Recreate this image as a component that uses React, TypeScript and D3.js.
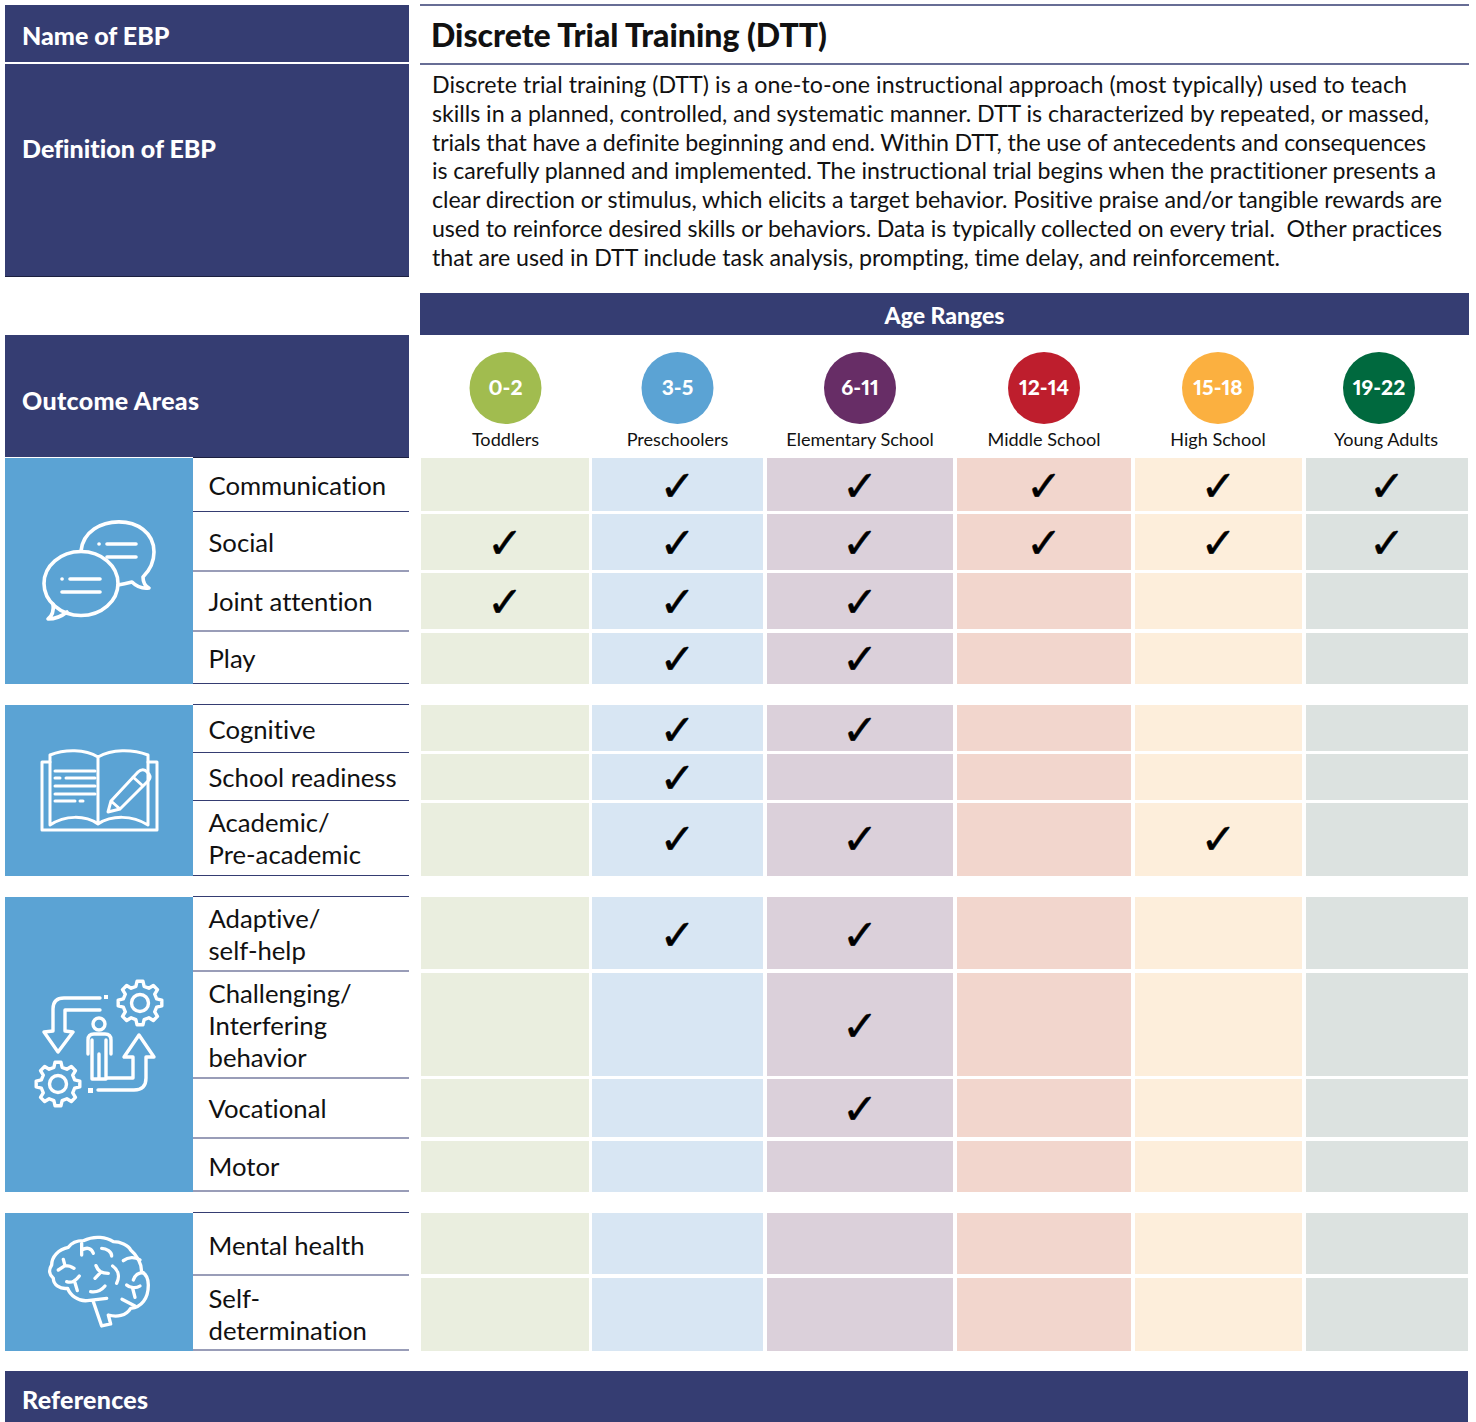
import React from 'react';
import * as d3 from 'd3';

const NAVY = '#353d72';
const BLUE = '#5ba3d4';
const FONT = 'Lato, "Open Sans", sans-serif';

const ageRanges = ['0-2', '3-5', '6-11', '12-14', '15-18', '19-22'];
const ageLabels = ['Toddlers', 'Preschoolers', 'Elementary School', 'Middle School', 'High School', 'Young Adults'];
const circleColors = ['#a1bc4f', '#5ba3d4', '#672d66', '#be1e2d', '#fbb040', '#00693e'];
const cellColors = ['#eaeedf', '#d8e6f3', '#dbd0da', '#f2d6cd', '#fdeedb', '#dce2e0'];

const outcomes = [
  'Communication', 'Social', 'Joint attention', 'Play',
  'Cognitive', 'School readiness', 'Academic/\nPre-academic',
  'Adaptive/\nself-help', 'Challenging/\nInterfering\nbehavior', 'Vocational', 'Motor',
  'Mental health', 'Self-\ndetermination',
];

// which age ranges have evidence for each outcome, same order as outcomes
const checks = [
  ['3-5', '6-11', '12-14', '15-18', '19-22'],
  ['0-2', '3-5', '6-11', '12-14', '15-18', '19-22'],
  ['0-2', '3-5', '6-11'],
  ['3-5', '6-11'],
  ['3-5', '6-11'],
  ['3-5'],
  ['3-5', '6-11', '15-18'],
  ['3-5', '6-11'],
  ['6-11'],
  ['6-11'],
  [],
  [],
  [],
];

const definition = [
  'Discrete trial training (DTT) is a one-to-one instructional approach (most typically) used to teach',
  'skills in a planned, controlled, and systematic manner. DTT is characterized by repeated, or massed,',
  'trials that have a definite beginning and end. Within DTT, the use of antecedents and consequences',
  'is carefully planned and implemented. The instructional trial begins when the practitioner presents a',
  'clear direction or stimulus, which elicits a target behavior. Positive praise and/or tangible rewards are',
  'used to reinforce desired skills or behaviors. Data is typically collected on every trial.  Other practices',
  'that are used in DTT include task analysis, prompting, time delay, and reinforcement.',
];
const definitionWidths = [975, 997, 994, 1004, 1010, 1010, 848];

// layout of the grid, in page pixels
const colLeft = d3.scaleOrdinal<string, number>().domain(ageRanges).range([421, 592, 767, 957, 1135, 1306]);
const colRight = d3.scaleOrdinal<string, number>().domain(ageRanges).range([589, 763, 953, 1131, 1302, 1468]);
const circleX = d3.scaleOrdinal<string, number>().domain(ageRanges).range([505.5, 677.5, 860, 1044, 1218, 1379]);
const labelX = d3.scaleOrdinal<string, number>().domain(ageRanges).range([505.5, 677.5, 860, 1044, 1218, 1386]);
const rowTop = d3.scaleOrdinal<string, number>().domain(outcomes)
  .range([458, 514, 573, 633, 705, 754, 803, 897, 973, 1079, 1141, 1213, 1278]);
const rowBottom = d3.scaleOrdinal<string, number>().domain(outcomes)
  .range([511, 570, 629, 684, 751, 800, 876, 969, 1076, 1137, 1192, 1274, 1351]);
const rowMid = d3.scaleOrdinal<string, number>().domain(outcomes)
  .range([486, 543, 602, 659, 730, 778, 839, 935, 1026, 1109, 1166.5, 1246, 1314.5]);
const ruleY = [
  511.5, 571, 631, 683.5,
  704.5, 752.5, 800.5, 875.5,
  896.5, 971, 1078, 1138, 1191,
  1212.5, 1275, 1350,
];
const panels = [[458, 684], [705, 876], [897, 1192], [1213, 1351]];

const gearPath = (cx: number, cy: number, r: number) => {
  const teeth = 8;
  const pts: [number, number][] = [];
  d3.range(teeth).forEach(i => {
    const a = (i / teeth) * 2 * Math.PI;
    const w = Math.PI / teeth;
    [[-0.62, r * 0.78], [-0.34, r], [0.34, r], [0.62, r * 0.78]].forEach(([o, rad]) => {
      pts.push([cx + rad * Math.sin(a + o * w), cy - rad * Math.cos(a + o * w)]);
    });
  });
  return d3.line().curve(d3.curveLinearClosed)(pts) as string;
};

const SpeechIcon = () => (
  <g fill="none" stroke="#fff" strokeWidth={3.6} strokeLinecap="round" strokeLinejoin="round">
    <path d="M81 551 C85 512 154 512 154 552 C154 564 148 572 143 577 C143 582 145 586 149 588 C142 589 136 586 132 582 C128 583 124 584 118 585" />
    <ellipse cx={81} cy={583.5} rx={37} ry={32} />
    <path d="M53 604 C54 611 52 616 48 619 C56 619 62 616 67 612" />
    <path d="M99 544 L99.1 544 M107 544 L136 544 M107 557 L136 557" />
    <path d="M62 579 L62.1 579 M70 579 L100 579 M62 592 L100 592" />
  </g>
);

const BookIcon = () => (
  <g fill="none" stroke="#fff" strokeWidth={3} strokeLinejoin="round" strokeLinecap="round">
    <path d="M50 762 L42 762 L42 830 L157 830 L157 762 L148 762" />
    <path d="M98 757 C85 749 65 749 50 755 L50 825 C65 815 85 815 98 824 C112 815 132 815 148 825 L148 755 C132 749 112 749 98 757 L98 824" />
    <path d="M55 771 L95 771 M55 778 L60 778 M66 778 L95 778 M55 786 L95 786 M55 794 L95 794 M55 801 L75 801 M80 801 L83 801" />
    <path d="M108 812 L111 801 L138 772 C141 769 145 769 147 772 L149 774 C151 777 150 779 148 781 L120 809 Z M111 801 L120 809 M133 777 L143 786" />
  </g>
);

const PeopleIcon = () => (
  <g fill="none" stroke="#fff" strokeWidth={3.4} strokeLinejoin="round" strokeLinecap="round">
    <path d={gearPath(140, 1003, 22)} />
    <circle cx={140} cy={1003} r={8.5} />
    <path d={gearPath(58, 1084, 22)} />
    <circle cx={58} cy={1084} r={8.5} />
    <path d="M100 998 L64 998 Q53 998 53 1009 L53 1031 L44 1032 L58 1052 L73 1032 L65 1031 L65 1010 L100 1010" />
    <path d="M98 1090 L134 1090 Q146 1090 146 1078 L146 1057 L154 1057 L139 1035 L124 1057 L133 1057 L133 1078 L107 1078" />
    <circle cx={99} cy={1024} r={6} />
    <path d="M88 1054 L88 1040 Q88 1034 94 1034 L105 1034 Q111 1034 111 1040 L111 1054 M92 1040 L92 1079 L106 1079 L106 1040 M99 1054 L99 1079" />
    <rect x={104} y={995} width={4} height={4} fill="#fff" stroke="none" />
    <rect x={88} y={1088} width={5} height={5} fill="#fff" stroke="none" />
  </g>
);

const BrainIcon = () => (
  <g transform="translate(0,1200) scale(0.3333)" fill="none" stroke="#fff" strokeWidth={10} strokeLinecap="round" strokeLinejoin="round">
    <path d="M280 305 L305 378 L332 372 L325 345 C350 352 378 348 392 325 C425 322 445 295 445 255 C445 235 438 222 425 215 C425 190 410 165 392 150 C385 135 360 125 340 125 C320 112 285 105 250 122 C230 122 215 128 205 142 C175 148 155 170 155 195 C145 210 148 225 160 235 C160 255 180 268 203 265 C210 285 235 305 262 302 L320 295" />
    <path d="M245 165 L245 130 M245 150 C262 140 275 145 280 160" />
    <path d="M305 145 C320 145 335 155 335 168" />
    <path d="M370 182 C385 170 405 170 420 180" />
    <path d="M175 210 L195 197 L190 178 M195 197 C205 197 215 200 222 205" />
    <path d="M200 245 C215 250 225 245 238 228 M225 248 L232 272" />
    <path d="M288 197 C295 215 305 220 325 220 M302 217 L285 235" />
    <path d="M338 198 C355 210 360 230 350 250" />
    <path d="M272 275 C290 278 305 270 315 258" />
    <path d="M400 240 C405 225 415 218 430 218" />
    <path d="M380 255 C390 265 410 265 420 258 M398 265 L405 292" />
    <path d="M366 298 L405 318" />
  </g>
);

const icons = [SpeechIcon, BookIcon, PeopleIcon, BrainIcon];

const App = () => (
  <svg width={1476} height={1422} style={{ position: 'absolute', left: 0, top: 0, fontFamily: FONT, fontVariantLigatures: 'none' }}>
    <rect width={1476} height={1422} fill="#fff" />

    {/* header blocks */}
    <rect x={5} y={5} width={404} height={57} fill={NAVY} />
    <rect x={5} y={64} width={404} height={212} fill={NAVY} />
    <rect x={5} y={335} width={404} height={122} fill={NAVY} />
    <rect x={420} y={293} width={1049} height={42} fill={NAVY} />
    <rect x={5} y={1371} width={1463} height={51} fill={NAVY} />
    <g fill="#fff" fontWeight={900} fontSize={25}>
      <text x={22} y={45}>Name of EBP</text>
      <text x={22} y={158}>Definition of EBP</text>
      <text x={22} y={410} textLength={177}>Outcome Areas</text>
      <text x={22} y={1409} textLength={126}>References</text>
      <text x={944.5} y={324} textAnchor="middle" fontSize={23}>Age Ranges</text>
    </g>

    <line x1={420} x2={1469} y1={5} y2={5} stroke={NAVY} strokeWidth={1.5} />
    <line x1={420} x2={1469} y1={64} y2={64} stroke={NAVY} strokeWidth={1.5} />
    <text x={431} y={47} fontSize={32} fontWeight={900} fill="#111" textLength={396}>Discrete Trial Training (DTT)</text>
    <g fontSize={23.2} fill="#111">
      {definition.map((line, i) => (
        <text key={i} x={432} y={93 + i * 28.83} xmlSpace="preserve" textLength={definitionWidths[i]}>{line}</text>
      ))}
    </g>

    {/* age range badges */}
    {ageRanges.map((age, i) => (
      <g key={age}>
        <circle cx={circleX(age)} cy={388} r={36} fill={circleColors[i]} />
        <text x={circleX(age)} y={395} textAnchor="middle" fill="#fff" fontWeight={900} fontSize={21}
          style={{ fontVariantNumeric: 'proportional-nums' }}>{age}</text>
        <text x={labelX(age)} y={446} textAnchor="middle" fill="#111" fontSize={18.1}>{ageLabels[i]}</text>
      </g>
    ))}

    {/* cells */}
    {outcomes.map(o => ageRanges.map((age, i) => (
      <rect key={o + age} x={colLeft(age)} y={rowTop(o)} width={colRight(age) - colLeft(age)}
        height={rowBottom(o) - rowTop(o)} fill={cellColors[i]} />
    )))}

    {/* checks */}
    {outcomes.map((o, r) => checks[r].map(age => (
      <text key={o + age} x={(colLeft(age) + colRight(age)) / 2} y={rowMid(o) + 15}
        textAnchor="middle" fontSize={43} fontFamily='"DejaVu Sans"' fontWeight={700} fill="#000"
        stroke="#000" strokeWidth={0.5}>✓</text>
    )))}

    {/* left side */}
    {panels.map(([y0, y1], i) => {
      const Icon = icons[i];
      return (
        <g key={y0}>
          <rect x={5} y={y0} width={188} height={y1 - y0} fill={BLUE} />
          <Icon />
        </g>
      );
    })}
    <line x1={193} x2={409} y1={457.5} y2={457.5} stroke="#1c2040" strokeWidth={1.2} />
    <line x1={5} x2={409} y1={276.5} y2={276.5} stroke="#1c2040" strokeWidth={1} />
    {ruleY.map(y => <line key={y} x1={193} x2={409} y1={y} y2={y} stroke={NAVY} strokeWidth={1.2} />)}
    {outcomes.map(o => {
      const lines = o.split('\n');
      const mid = rowMid(o) + 9.2;
      return lines.map((l, j) => (
        <text key={l} x={208.5} y={mid + (j - (lines.length - 1) / 2) * 32} fontSize={25.7} fill="#111">{l}</text>
      ));
    })}
  </svg>
);

export default App;
